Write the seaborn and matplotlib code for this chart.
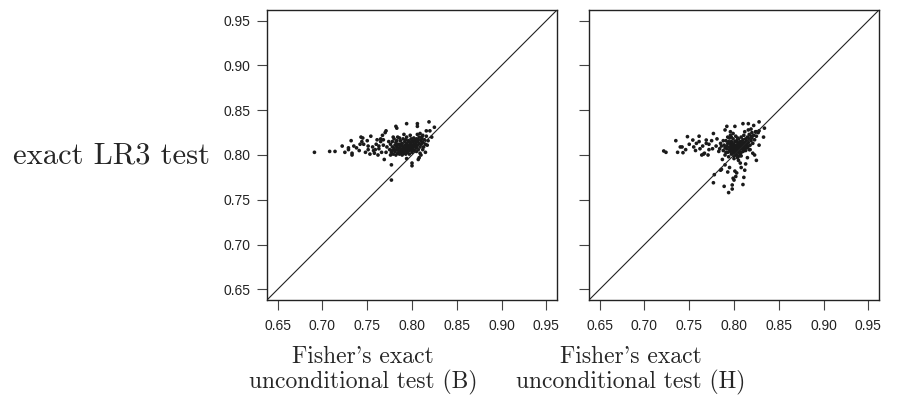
import numpy as np
import pandas as pd
import matplotlib
matplotlib.use("Agg")
import matplotlib.pyplot as plt
import seaborn as sns

# power estimates, x = Fisher's exact unconditional, y = exact LR3
fisher_b = [0.691, 0.708, 0.714, 0.722, 0.725, 0.729, 0.729, 0.732, 0.733, 0.733, 0.735, 0.741, 0.742, 0.743,
            0.744, 0.745, 0.746, 0.750, 0.751, 0.751, 0.753, 0.754, 0.756, 0.757, 0.758, 0.760, 0.761, 0.763,
            0.763, 0.765, 0.765, 0.767, 0.768, 0.769, 0.770, 0.771, 0.777, 0.777, 0.782, 0.783, 0.794, 0.806,
            0.806, 0.819, 0.825, 0.822, 0.816, 0.820, 0.809, 0.811, 0.800, 0.800, 0.807, 0.809, 0.810, 0.794,
            0.817, 0.738, 0.748, 0.759, 0.766, 0.768, 0.762, 0.812, 0.815, 0.808,
            0.775, 0.776, 0.777, 0.778, 0.778, 0.779, 0.780, 0.780, 0.781, 0.781, 0.782, 0.782, 0.783, 0.783,
            0.784, 0.784, 0.785, 0.785, 0.786, 0.786, 0.787, 0.787, 0.788, 0.788, 0.789, 0.789, 0.790, 0.790,
            0.790, 0.791, 0.791, 0.792, 0.792, 0.793, 0.793, 0.794, 0.794, 0.794, 0.795, 0.795, 0.796, 0.796,
            0.797, 0.797, 0.798, 0.798, 0.799, 0.799, 0.800, 0.800, 0.801, 0.801, 0.802, 0.802, 0.803, 0.803,
            0.804, 0.804, 0.805, 0.805, 0.806, 0.806, 0.807, 0.808, 0.808, 0.809, 0.810, 0.810, 0.811, 0.812,
            0.813, 0.814, 0.815, 0.816, 0.818, 0.812, 0.806, 0.798, 0.791, 0.786, 0.779, 0.774, 0.772, 0.771,
            0.776, 0.787, 0.792, 0.796, 0.799, 0.801, 0.797, 0.793, 0.789, 0.784, 0.788, 0.795, 0.803, 0.807,
            0.805, 0.800, 0.794, 0.783, 0.778]
lr3_b = [0.803, 0.804, 0.804, 0.810, 0.803, 0.808, 0.806, 0.816, 0.802, 0.800, 0.810, 0.805, 0.812, 0.820,
         0.815, 0.819, 0.812, 0.816, 0.810, 0.806, 0.801, 0.821, 0.809, 0.805, 0.802, 0.812, 0.817, 0.807,
         0.810, 0.818, 0.815, 0.822, 0.817, 0.795, 0.825, 0.827, 0.789, 0.772, 0.832, 0.830, 0.835, 0.835,
         0.832, 0.837, 0.831, 0.820, 0.827, 0.827, 0.824, 0.820, 0.788, 0.791, 0.795, 0.802, 0.800, 0.796,
         0.811, 0.808, 0.803, 0.806, 0.803, 0.811, 0.800, 0.806, 0.803, 0.797,
         0.806, 0.812, 0.803, 0.809, 0.815, 0.801, 0.807, 0.818, 0.804, 0.811, 0.800, 0.814, 0.806, 0.809,
         0.802, 0.820, 0.805, 0.812, 0.808, 0.801, 0.816, 0.803, 0.810, 0.806, 0.813, 0.800, 0.804, 0.809,
         0.818, 0.807, 0.802, 0.811, 0.815, 0.805, 0.801, 0.809, 0.813, 0.820, 0.803, 0.807, 0.811, 0.816,
         0.805, 0.801, 0.809, 0.814, 0.818, 0.806, 0.810, 0.803, 0.815, 0.808, 0.812, 0.819, 0.805, 0.816,
         0.810, 0.813, 0.808, 0.818, 0.811, 0.815, 0.806, 0.813, 0.820, 0.809, 0.816, 0.812, 0.818, 0.814,
         0.809, 0.817, 0.812, 0.821, 0.816, 0.822, 0.823, 0.822, 0.823, 0.819, 0.820, 0.815, 0.809, 0.803,
         0.800, 0.812, 0.806, 0.808, 0.812, 0.805, 0.815, 0.817, 0.806, 0.811, 0.803, 0.811, 0.809, 0.817,
         0.804, 0.817, 0.804, 0.816, 0.805]

fisher_h = [0.7215, 0.724, 0.735, 0.737, 0.740, 0.742, 0.743, 0.748, 0.754, 0.755, 0.757, 0.758, 0.761, 0.761,
            0.762, 0.764, 0.766, 0.767, 0.769, 0.769, 0.772, 0.772, 0.777, 0.776, 0.778, 0.777, 0.785, 0.786,
            0.789, 0.790, 0.792, 0.793, 0.794, 0.796, 0.797, 0.798, 0.798, 0.799, 0.800, 0.801, 0.801, 0.803,
            0.805, 0.807, 0.810, 0.810, 0.812, 0.813, 0.815, 0.816, 0.819, 0.821, 0.823, 0.825, 0.822, 0.828,
            0.828, 0.825, 0.827, 0.828, 0.833, 0.834, 0.780, 0.783, 0.775, 0.781, 0.765, 0.750, 0.746, 0.771,
            0.787, 0.790, 0.795, 0.802, 0.808, 0.817, 0.811,
            0.788, 0.789, 0.790, 0.791, 0.792, 0.793, 0.793, 0.794, 0.795, 0.795, 0.796, 0.796, 0.797, 0.797,
            0.798, 0.798, 0.799, 0.799, 0.800, 0.800, 0.800, 0.801, 0.801, 0.802, 0.802, 0.802, 0.803, 0.803,
            0.804, 0.804, 0.805, 0.805, 0.805, 0.806, 0.806, 0.807, 0.807, 0.808, 0.808, 0.809, 0.809, 0.810,
            0.810, 0.811, 0.811, 0.812, 0.812, 0.813, 0.813, 0.814, 0.814, 0.815, 0.815, 0.816, 0.817, 0.817,
            0.818, 0.819, 0.820, 0.820, 0.821, 0.822, 0.823, 0.824, 0.825, 0.798, 0.801, 0.803, 0.806, 0.804,
            0.807, 0.800, 0.802, 0.805, 0.808, 0.797, 0.799, 0.803, 0.810, 0.812, 0.809, 0.806, 0.801, 0.798,
            0.795, 0.792, 0.790, 0.794, 0.804, 0.811, 0.814, 0.816, 0.802, 0.806, 0.800, 0.804, 0.808, 0.818,
            0.786, 0.784, 0.788, 0.791, 0.785, 0.796, 0.793, 0.799, 0.812, 0.816, 0.819]
lr3_h = [0.8045, 0.803, 0.816, 0.803, 0.809, 0.809, 0.8026, 0.8205, 0.8167, 0.809, 0.805, 0.813, 0.821, 0.815,
         0.807, 0.800, 0.801, 0.802, 0.8167, 0.813, 0.806, 0.812, 0.824, 0.807, 0.778, 0.769, 0.783, 0.784,
         0.765, 0.828, 0.832, 0.781, 0.758, 0.826, 0.820, 0.762, 0.7665, 0.774, 0.772, 0.832, 0.782, 0.780,
         0.794, 0.791, 0.835, 0.767, 0.783, 0.790, 0.797, 0.835, 0.821, 0.802, 0.800, 0.794, 0.833, 0.837,
         0.811, 0.826, 0.825, 0.827, 0.820, 0.830, 0.810, 0.804, 0.816, 0.818, 0.810, 0.812, 0.806, 0.800,
         0.795, 0.789, 0.786, 0.776, 0.786, 0.806, 0.775,
         0.805, 0.811, 0.800, 0.816, 0.807, 0.803, 0.813, 0.798, 0.809, 0.819, 0.804, 0.812, 0.801, 0.815,
         0.807, 0.810, 0.803, 0.818, 0.806, 0.812, 0.799, 0.809, 0.815, 0.803, 0.807, 0.821, 0.811, 0.800,
         0.806, 0.814, 0.809, 0.803, 0.818, 0.812, 0.806, 0.815, 0.801, 0.810, 0.820, 0.807, 0.813, 0.817,
         0.804, 0.811, 0.822, 0.814, 0.808, 0.818, 0.805, 0.812, 0.816, 0.820, 0.809, 0.814, 0.818, 0.823,
         0.811, 0.816, 0.825, 0.819, 0.813, 0.822, 0.817, 0.826, 0.821, 0.813, 0.805, 0.808, 0.809, 0.811,
         0.812, 0.808, 0.810, 0.806, 0.803, 0.808, 0.810, 0.816, 0.809, 0.811, 0.815, 0.803, 0.802, 0.805,
         0.806, 0.810, 0.808, 0.815, 0.819, 0.805, 0.808, 0.810, 0.800, 0.799, 0.796, 0.797, 0.799, 0.806,
         0.810, 0.807, 0.816, 0.803, 0.813, 0.822, 0.820, 0.824, 0.826, 0.828, 0.829]

ticks = [0.65, 0.70, 0.75, 0.80, 0.85, 0.90, 0.95]
lims = (0.638, 0.962)

sns.set_style("ticks")
plt.rcParams['font.family'] = ['Liberation Sans', 'DejaVu Sans']

fig = plt.figure(figsize=(8.99, 4.01), dpi=100)
ax1 = fig.add_axes([267 / 899, 101 / 401, 290 / 899, 290 / 401])
ax2 = fig.add_axes([589 / 899, 101 / 401, 290 / 899, 290 / 401])

panels = [(ax1, fisher_b, lr3_b, 'B'), (ax2, fisher_h, lr3_h, 'H')]
for ax, xs, ys, lab in panels:
    df = pd.DataFrame({'fisher': xs, 'lr3': ys})
    sns.scatterplot(data=df, x='fisher', y='lr3', ax=ax, s=7, color='#1a1a1a',
                    edgecolor='none', linewidth=0)
    ax.axline((ticks[0], ticks[0]), (ticks[-1], ticks[-1]), color='#222222', lw=0.8)
    ax.set_xlim(lims)
    ax.set_ylim(lims)
    ax.set_xticks(ticks)
    ax.set_yticks(ticks)
    ax.set_xticklabels([f'{t:.2f}' for t in ticks])
    ax.set_yticklabels([f'{t:.2f}' for t in ticks])
    ax.set_xlabel('')
    ax.set_ylabel('')
    for sp in ax.spines.values():
        sp.set_visible(True)
        sp.set_linewidth(1.0)
        sp.set_color('#222222')
    ax.tick_params(direction='out', length=7, width=0.8, color='#444444',
                   labelsize=10, labelcolor='#222222')
    ax.tick_params(axis='x', pad=7)
    ax.tick_params(axis='y', pad=5)

ax2.tick_params(axis='y', labelleft=False)

serif = 'cmr10'
fig.text(210 / 899, (401 - 163) / 401, 'exact LR3 test', ha='right', va='baseline',
         fontsize=22, family=serif)
for cx, lab in [(363, 'B'), (631, 'H')]:
    fig.text(cx / 899, (401 - 363) / 401, "Fisher's exact", ha='center', va='baseline',
             fontsize=17, family=serif)
    fig.text(cx / 899, (401 - 388) / 401, f'unconditional test ({lab})', ha='center',
             va='baseline', fontsize=17, family=serif)

fig.savefig('out.png', dpi=100)
